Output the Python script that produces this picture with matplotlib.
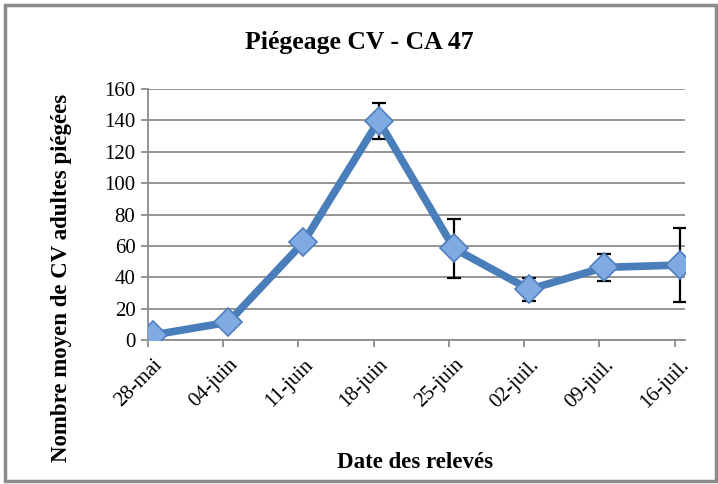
import numpy as np
import matplotlib.pyplot as plt
from matplotlib.patches import Rectangle

# données
dates = ['28-mai', '04-juin', '11-juin', '18-juin', '25-juin', '02-juil.', '09-juil.', '16-juil.']
moyennes = [3.2, 11.3, 62.3, 139.8, 58.4, 32.3, 46.3, 47.8]
erreurs = [0, 0, 0, 11.5, 18.7, 7.5, 8.7, 23.4]
y_ticks = [0, 20, 40, 60, 80, 100, 120, 140, 160]

SERIF = 'Liberation Serif'
BLEU = '#4a7ebb'

fig = plt.figure(figsize=(7.18, 4.84), dpi=100)
ax = fig.add_axes([0.206, 0.2975, 0.748, 0.5185])

# cadre gris autour du graphique
fig.patches.append(Rectangle((5 / 718, 3 / 484), 711 / 718, 476 / 484, transform=fig.transFigure,
                             fill=False, edgecolor='#8c8c8c', linewidth=2.5))

x = np.arange(len(dates))
ax.errorbar(x, moyennes, yerr=erreurs, fmt='none', ecolor='black', elinewidth=1.6,
            capsize=5, capthick=1.6, zorder=3)
ax.plot(x, moyennes, color=BLEU, linewidth=5.5, zorder=4, solid_capstyle='round')
ax.plot(x, moyennes, linestyle='None', marker='D', markersize=14,
        markerfacecolor='#80abe2', markeredgecolor='#4f7fbd', markeredgewidth=1.2, zorder=5)

ax.set_xlim(-0.067, 7.07)
ax.set_ylim(0, 160)
ax.set_yticks(y_ticks)
ax.set_xticks(x)
ax.set_xticks(x - 0.067, minor=True)
ax.set_xticklabels(dates, rotation=45, ha='right', va='top', rotation_mode='anchor',
                   fontsize=15, family=SERIF)
for lab in ax.get_yticklabels():
    lab.set_fontsize(15)
    lab.set_family(SERIF)

ax.grid(axis='y', color='#8c8c8c', linewidth=1.3)
ax.set_axisbelow(True)
for s in ['top', 'right']:
    ax.spines[s].set_visible(False)
for s in ['left', 'bottom']:
    ax.spines[s].set_color('#8c8c8c')
    ax.spines[s].set_linewidth(1.3)
ax.tick_params(axis='y', color='#8c8c8c', width=1.3, length=5, pad=4)
ax.tick_params(axis='x', which='major', length=0, pad=11)
ax.tick_params(axis='x', which='minor', color='#8c8c8c', width=1.3, length=5)

fig.text(0.5, 1 - 42 / 484, 'Piégeage CV - CA 47', ha='center', va='center',
         fontsize=18.5, fontweight='bold', family=SERIF)
fig.text(415 / 718, 1 - 462 / 484, 'Date des relevés', ha='center', va='center',
         fontsize=16.5, fontweight='bold', family=SERIF)
fig.text(62 / 718, 1 - 278 / 484, 'Nombre moyen de CV adultes piégées', ha='center', va='center',
         rotation=90, fontsize=16.5, fontweight='bold', family=SERIF)

fig.savefig('out.png', dpi=100)
